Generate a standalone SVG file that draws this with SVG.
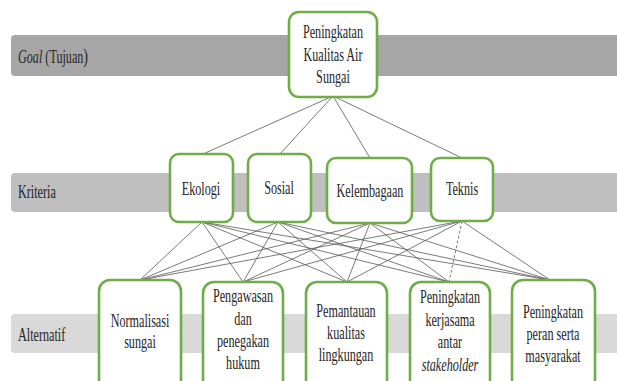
<svg xmlns="http://www.w3.org/2000/svg" width="617" height="381" viewBox="0 0 617 381">
<style>
.bg{fill:#ffffff}
.band1{fill:#a6a6a6}
.band2{fill:#bfbfbf}
.band3{fill:#d9d9d9}
.box{fill:#ffffff;stroke:#6fae47;stroke-width:2.6}
.t{font-family:"Liberation Serif","Times New Roman",serif;font-size:19px;fill:#262626;text-anchor:middle}
.lbl{font-family:"Liberation Serif","Times New Roman",serif;font-size:19px;fill:#262626}
.it{font-style:italic}
.ln{stroke:#595959;stroke-width:0.8;fill:none}
.dash{stroke-dasharray:3 2}
</style>
<rect class="bg" x="0" y="0" width="617" height="381"/>
<g id="bands">
<rect class="band1" x="11" y="35" width="620" height="41" rx="4"/>
<rect class="band2" x="11" y="173" width="620" height="39" rx="4"/>
<rect class="band3" x="11" y="314" width="620" height="39" rx="4"/>
<g transform="translate(18,0) scale(0.64,1)"><text class="lbl" x="0" y="63"><tspan class="it">Goal</tspan> (Tujuan<tspan font-size="22">)</tspan></text></g>
<g transform="translate(18,0) scale(0.64,1)"><text class="lbl" x="0" y="198">Kriteria</text></g>
<g transform="translate(18,0) scale(0.64,1)"><text class="lbl" x="0" y="341">Alternatif</text></g>
</g>
<g id="connectors">
<line class="ln" x1="333" y1="96" x2="203" y2="154"/>
<line class="ln" x1="333" y1="96" x2="280" y2="154"/>
<line class="ln" x1="333" y1="96" x2="370" y2="158"/>
<line class="ln" x1="333" y1="96" x2="462" y2="158"/>
<line class="ln" x1="202" y1="222" x2="140" y2="280"/>
<line class="ln" x1="202" y1="222" x2="243" y2="282"/>
<line class="ln" x1="202" y1="222" x2="347" y2="282"/>
<line class="ln" x1="202" y1="222" x2="449" y2="282"/>
<line class="ln" x1="202" y1="222" x2="550" y2="280"/>
<line class="ln" x1="278" y1="222" x2="140" y2="280"/>
<line class="ln" x1="278" y1="222" x2="243" y2="282"/>
<line class="ln" x1="278" y1="222" x2="347" y2="282"/>
<line class="ln" x1="278" y1="222" x2="449" y2="282"/>
<line class="ln" x1="278" y1="222" x2="550" y2="280"/>
<line class="ln" x1="370" y1="223" x2="140" y2="280"/>
<line class="ln" x1="370" y1="223" x2="243" y2="282"/>
<line class="ln" x1="370" y1="223" x2="347" y2="282"/>
<line class="ln" x1="370" y1="223" x2="449" y2="282"/>
<line class="ln" x1="370" y1="223" x2="550" y2="280"/>
<line class="ln" x1="462" y1="221" x2="140" y2="280"/>
<line class="ln" x1="462" y1="221" x2="243" y2="282"/>
<line class="ln" x1="462" y1="221" x2="347" y2="282"/>
<line class="ln dash" x1="462" y1="221" x2="449" y2="282"/>
<line class="ln" x1="462" y1="221" x2="550" y2="280"/>
</g>
<g id="goal">
<rect class="box" x="289" y="12" width="88" height="85" rx="10"/>
<g transform="translate(333,0) scale(0.64,1)">
<text class="t" x="0" y="38">Peningkatan</text>
<text class="t" x="0" y="61">Kualitas Air</text>
<text class="t" x="0" y="83">Sungai</text>
</g>
</g>
<g id="ekologi">
<rect class="box" x="170" y="154" width="63" height="68" rx="9"/>
<g transform="translate(201,0) scale(0.64,1)"><text class="t" x="0" y="195">Ekologi</text></g>
</g>
<g id="sosial">
<rect class="box" x="248" y="154" width="63" height="68" rx="9"/>
<g transform="translate(279,0) scale(0.64,1)"><text class="t" x="0" y="194">Sosial</text></g>
</g>
<g id="kelembagaan">
<rect class="box" x="327" y="158" width="85" height="65" rx="9"/>
<g transform="translate(370,0) scale(0.64,1)"><text class="t" x="0" y="197">Kelembagaan</text></g>
</g>
<g id="teknis">
<rect class="box" x="431" y="158" width="62" height="63" rx="9"/>
<g transform="translate(462,0) scale(0.64,1)"><text class="t" x="0" y="195">Teknis</text></g>
</g>
<g id="normalisasi">
<rect class="box" x="99" y="280" width="82" height="110" rx="11"/>
<g transform="translate(140,0) scale(0.64,1)">
<text class="t" x="0" y="327">Normalisasi</text>
<text class="t" x="0" y="348">sungai</text>
</g>
</g>
<g id="pengawasan">
<rect class="box" x="203" y="282" width="80" height="110" rx="11"/>
<g transform="translate(243,0) scale(0.64,1)">
<text class="t" x="0" y="302">Pengawasan</text>
<text class="t" x="0" y="325">dan</text>
<text class="t" x="0" y="347">penegakan</text>
<text class="t" x="0" y="369">hukum</text>
</g>
</g>
<g id="pemantauan">
<rect class="box" x="306" y="282" width="81" height="110" rx="11"/>
<g transform="translate(346,0) scale(0.64,1)">
<text class="t" x="0" y="317">Pemantauan</text>
<text class="t" x="0" y="339">kualitas</text>
<text class="t" x="0" y="361">lingkungan</text>
</g>
</g>
<g id="kerjasama">
<rect class="box" x="410" y="282" width="80" height="110" rx="11"/>
<g transform="translate(450,0) scale(0.64,1)">
<text class="t" x="0" y="303">Peningkatan</text>
<text class="t" x="0" y="326">kerjasama</text>
<text class="t" x="0" y="348">antar</text>
<text class="t it" x="0" y="371">stakeholder</text>
</g>
</g>
<g id="peran">
<rect class="box" x="512" y="280" width="83" height="110" rx="11"/>
<g transform="translate(553,0) scale(0.64,1)">
<text class="t" x="0" y="318">Peningkatan</text>
<text class="t" x="0" y="340">peran serta</text>
<text class="t" x="0" y="362">masyarakat</text>
</g>
</g>
</svg>
